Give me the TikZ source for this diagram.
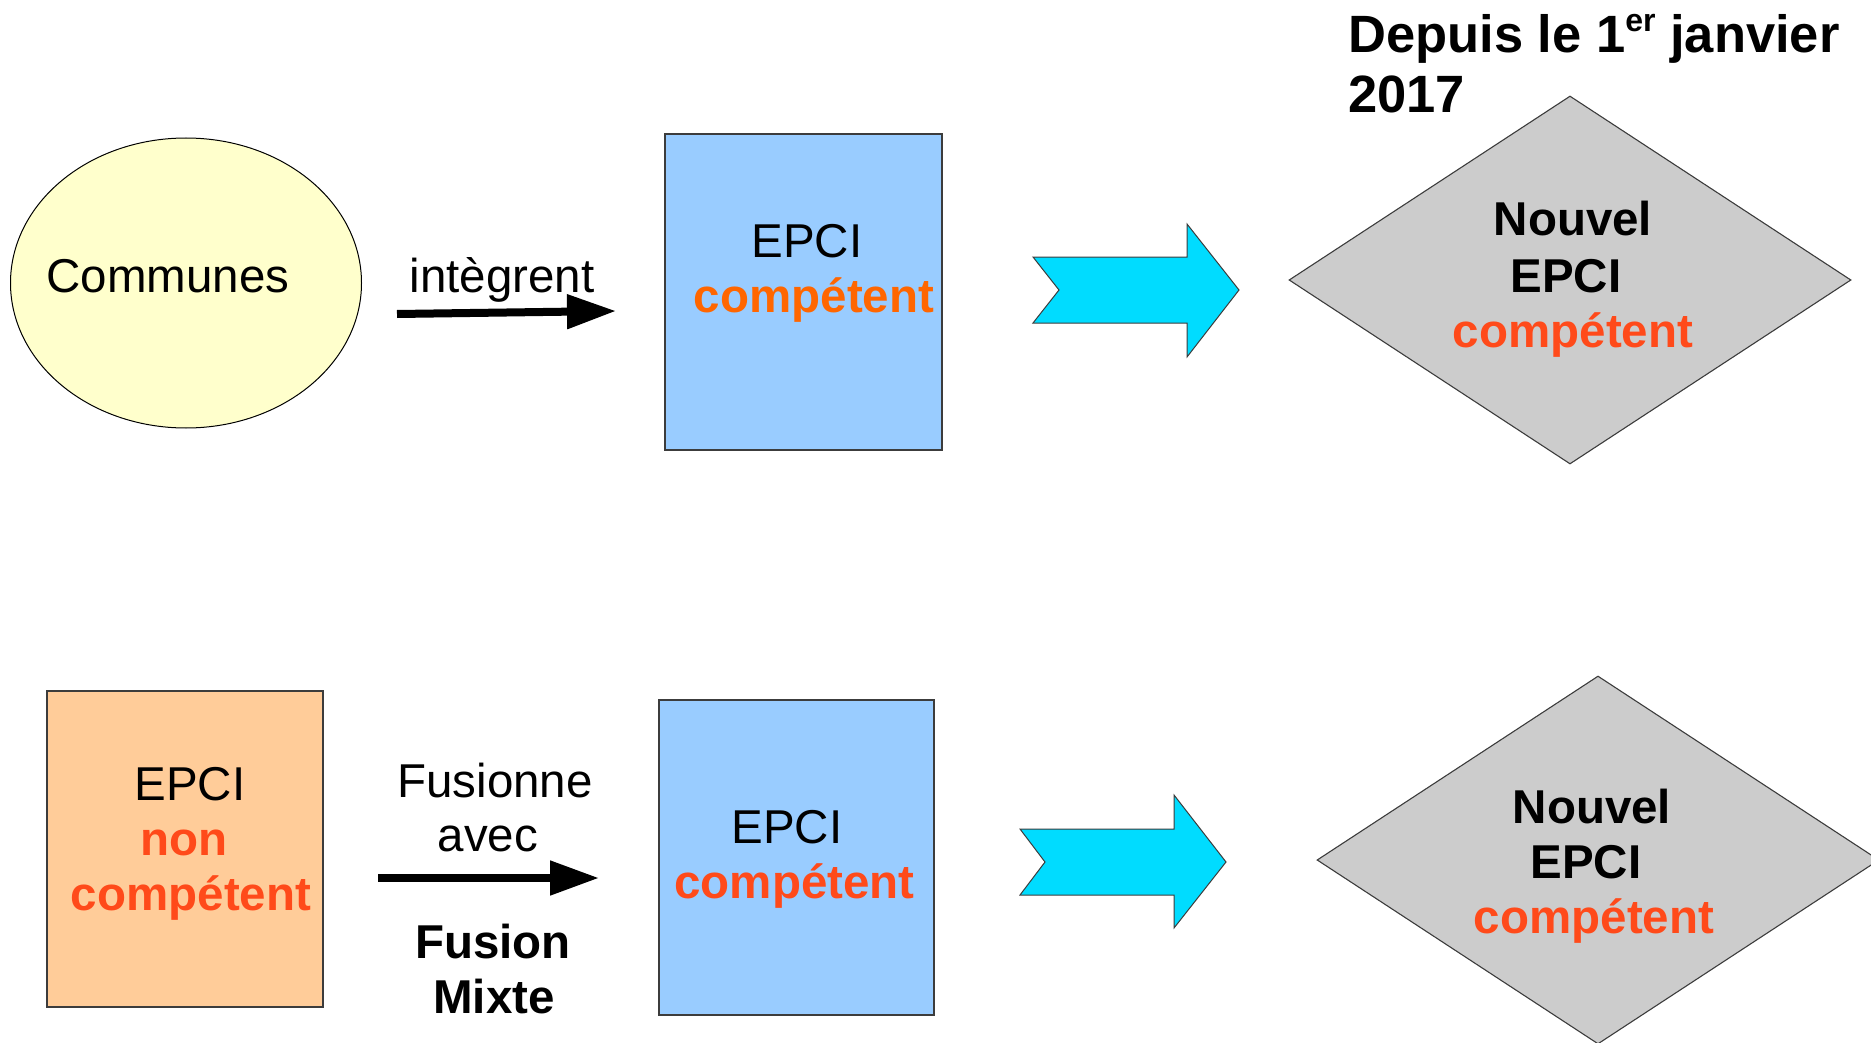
\documentclass[tikz,border=0pt]{standalone}
\usepackage{fontspec}
\setmainfont{Liberation Sans}
\usetikzlibrary{arrows.meta,shapes.geometric}
\definecolor{yellowfill}{HTML}{FFFFCC}
\definecolor{bluefill}{HTML}{99CCFF}
\definecolor{orangefill}{HTML}{FFCC99}
\definecolor{cyanfill}{HTML}{00DCFF}
\definecolor{grayfill}{HTML}{CCCCCC}
\definecolor{orangetxt}{HTML}{FF6600}
\definecolor{redtxt}{HTML}{FF4A1A}
\definecolor{edgegray}{HTML}{3C3C3C}
\begin{document}
\begin{tikzpicture}[x=1pt,y=-1pt,
  txt/.style={anchor=base,inner sep=0pt,font=\fontsize{47.5}{55}\selectfont},
  txtb/.style={txt,font=\fontsize{47.5}{55}\selectfont\bfseries},
  boxnode/.style={rectangle,draw=edgegray,line width=1.3pt,inner sep=0pt},
  losange/.style={diamond,draw=edgegray,line width=1.1pt,fill=grayfill,inner sep=0pt,minimum width=562pt,minimum height=368pt},
  cyanarrow/.style={draw=edgegray,line width=1pt,fill=cyanfill},
  blackarrow/.style={line width=8pt,-{Triangle[length=49pt,width=33pt]}},
  titletxt/.style={anchor=base west,inner sep=0pt,font=\fontsize{52.5}{60}\selectfont\bfseries}]
\useasboundingbox (0,0) rectangle (1871,1043);

% ---------- top row ----------
\node[ellipse,draw=black,line width=1pt,fill=yellowfill,inner sep=0pt,minimum width=351pt,minimum height=290pt] (communes) at (186,283) {};
\node[txt] (tcommunes) at (168,292) {Communes};

\coordinate (a1s) at (397,314);
\coordinate (a1e) at (616,311);
\draw[blackarrow] (a1s) -- (a1e);
\node[txt] (tintegrent) at (502,292) {intègrent};

\node[boxnode,fill=bluefill,minimum width=277pt,minimum height=316pt] (epci1) at (803.5,292) {};
\node[txt] (tepci1) at (807,257) {EPCI};
\node[txtb,text=orangetxt] (tcomp1) at (814,312) {compétent};

\draw[cyanarrow] (1033,257) -- (1187,257) -- (1187,224) -- (1239,290) -- (1187,357) -- (1187,323) -- (1033,323) -- (1059,290) -- cycle;

\node[losange] (nouvel1) at (1570,280) {};
\node[txtb] (tnouvel1) at (1573,236) {Nouvel};
\node[txtb] (tnepci1) at (1566,292) {EPCI};
\node[txtb,text=redtxt] (tncomp1) at (1573,347) {compétent};

\node[titletxt] (title1) at (1348,53) {Depuis le 1\raisebox{21pt}{\fontsize{32}{32}\selectfont er} janvier};
\node[titletxt] (title2) at (1348,113) {2017};

% ---------- bottom row ----------
\node[boxnode,fill=orangefill,minimum width=276pt,minimum height=316pt] (epci2) at (185,849) {};
\node[txt] (tepci2) at (190,800) {EPCI};
\node[txtb,text=redtxt] (tnon) at (184,855) {non};
\node[txtb,text=redtxt] (tcomp2) at (191,910) {compétent};

\coordinate (a2s) at (378,878);
\coordinate (a2e) at (599,878);
\draw[blackarrow] (a2s) -- (a2e);
\node[txt] (tfusionne) at (495,797) {Fusionne};
\node[txt] (tavec) at (488,851) {avec};
\node[txtb] (tfusion) at (493,958) {Fusion};
\node[txtb] (tmixte) at (494,1013) {Mixte};

\node[boxnode,fill=bluefill,minimum width=275pt,minimum height=315pt] (epci3) at (796.5,857.5) {};
\node[txt] (tepci3) at (787,843) {EPCI};
\node[txtb,text=redtxt] (tcomp3) at (794.5,898) {compétent};

\draw[cyanarrow] (1020,829) -- (1174,829) -- (1174,795) -- (1226,862) -- (1174,928) -- (1174,895) -- (1020,895) -- (1045,862) -- cycle;

\node[losange] (nouvel2) at (1598,860) {};
\node[txtb] (tnouvel2) at (1592,823) {Nouvel};
\node[txtb] (tnepci2) at (1586,878) {EPCI};
\node[txtb,text=redtxt] (tncomp2) at (1594,933) {compétent};
\end{tikzpicture}
\end{document}
